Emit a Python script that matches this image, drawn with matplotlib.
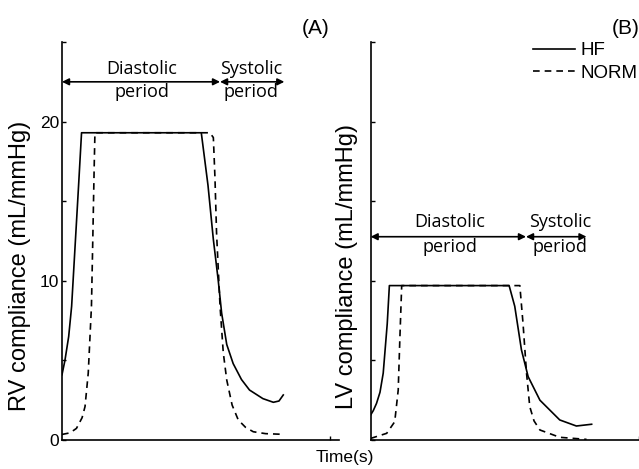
import matplotlib
matplotlib.use("Agg")
import matplotlib.pyplot as plt

plt.rcParams['font.family'] = ['Liberation Sans', 'DejaVu Sans']

# RV compliance (panel A)
rv_hf_t = [0, 0.011, 0.025, 0.036, 0.049, 0.062, 0.073, 0.52, 0.545, 0.565, 0.583, 0.596,
           0.615, 0.639, 0.67, 0.70, 0.75, 0.789, 0.81, 0.826]
rv_hf_c = [4.1, 5.0, 6.5, 8.4, 12.2, 16.0, 19.3, 19.3, 16.0, 12.6, 10.06, 7.97,
           6.0, 4.8, 3.8, 3.14, 2.6, 2.37, 2.45, 2.83]
rv_norm_t = [0, 0.03, 0.054, 0.075, 0.086, 0.098, 0.11, 0.115, 0.12, 0.123, 0.552,
             0.565, 0.571, 0.577, 0.59, 0.602, 0.615, 0.635, 0.658, 0.685, 0.714, 0.76, 0.82]
rv_norm_c = [0.35, 0.45, 0.73, 1.4, 2.1, 4.2, 8.4, 12.6, 17.0, 19.3, 19.3,
             19.0, 16.5, 13.0, 8.4, 5.5, 3.77, 2.2, 1.26, 0.8, 0.52, 0.4, 0.36]

# LV compliance (panel B)
lv_hf_t = [0, 0.01, 0.022, 0.035, 0.047, 0.062, 0.07, 0.517, 0.538, 0.563, 0.588,
           0.632, 0.706, 0.768, 0.825]
lv_hf_c = [1.57, 1.85, 2.3, 3.0, 4.2, 7.3, 9.7, 9.7, 8.4, 5.66, 3.98,
           2.5, 1.26, 0.88, 0.99]
lv_norm_t = [0, 0.06, 0.09, 0.103, 0.109, 0.116, 0.557, 0.569, 0.582, 0.594, 0.61,
             0.632, 0.706, 0.806]
lv_norm_c = [0.1, 0.42, 1.15, 3.14, 6.3, 9.7, 9.7, 7.3, 4.2, 2.1, 1.2,
             0.63, 0.17, 0.04]

panels = [
    dict(hf=(rv_hf_t, rv_hf_c), norm=(rv_norm_t, rv_norm_c), ylabel='RV compliance (mL/mmHg)',
         tag='(A)', arrow_y=22.5, top_y=23.3, bot_y=21.85, dia_end=0.59, sys_end=0.83),
    dict(hf=(lv_hf_t, lv_hf_c), norm=(lv_norm_t, lv_norm_c), ylabel='LV compliance (mL/mmHg)',
         tag='(B)', arrow_y=12.77, top_y=13.7, bot_y=12.15, dia_end=0.58, sys_end=0.806),
]

fig = plt.figure(figsize=(6.39, 4.69), dpi=100)
axes = [fig.add_axes([0.097, 0.0618, 0.4335, 0.8486]),
        fig.add_axes([0.580, 0.0618, 0.4335, 0.8486])]

for i, (ax, p) in enumerate(zip(axes, panels)):
    ax.plot(*p['hf'], color='black', lw=1.2, label='HF')
    ax.plot(*p['norm'], color='black', lw=1.2, ls=(0, (4, 3)), label='NORM')
    ax.set_xlim(0, 1.034)
    ax.set_ylim(0, 25)
    ax.set_xticks([1.0])
    ax.set_xticklabels([])
    ax.set_yticks([0, 5, 10, 15, 20, 25])
    if i == 0:
        ax.set_yticklabels(['0', '', '10', '', '20', ''])
    else:
        ax.set_yticklabels([])
    ax.tick_params(direction='in', length=3, width=1, labelsize=12.5, pad=2)
    for s in ['top', 'right']:
        ax.spines[s].set_visible(False)
    for s in ['left', 'bottom']:
        ax.spines[s].set_linewidth(1.2)
    ax.set_ylabel(p['ylabel'], fontsize=17)
    ax.yaxis.set_label_coords(-0.112 if i == 0 else -0.046, 0.437)

    ay = p['arrow_y']
    aprops = dict(arrowstyle='<|-|>', color='black', lw=1.2, mutation_scale=10,
                  shrinkA=0, shrinkB=0)
    ax.annotate('', xy=(p['dia_end'], ay), xytext=(0, ay), arrowprops=aprops)
    ax.annotate('', xy=(p['sys_end'], ay), xytext=(p['dia_end'], ay), arrowprops=aprops)
    tf = dict(ha='center', va='center', fontsize=13, family=['Open Sans', 'DejaVu Sans'])
    ax.text(0.297, p['top_y'], 'Diastolic', **tf)
    ax.text(0.297, p['bot_y'], 'period', **tf)
    ax.text(0.707, p['top_y'], 'Systolic', **tf)
    ax.text(0.707, p['bot_y'], 'period', **tf)

fig.text(302 / 639, 1 - 28 / 469, '(A)', fontsize=15, ha='left', va='center')
fig.text(612 / 639, 1 - 28 / 469, '(B)', fontsize=15, ha='left', va='center')
fig.text(345 / 639, 1 - 457 / 469, 'Time(s)', fontsize=12.5, ha='center', va='center')

fig.legend(*axes[1].get_legend_handles_labels(), loc='upper left',
           bbox_to_anchor=(533 / 639, 1 - 42 / 469), frameon=False, fontsize=13.5,
           handlelength=2.25, handletextpad=0.3, labelspacing=0.3,
           borderpad=0, borderaxespad=0)

fig.savefig('out.png', dpi=100)
